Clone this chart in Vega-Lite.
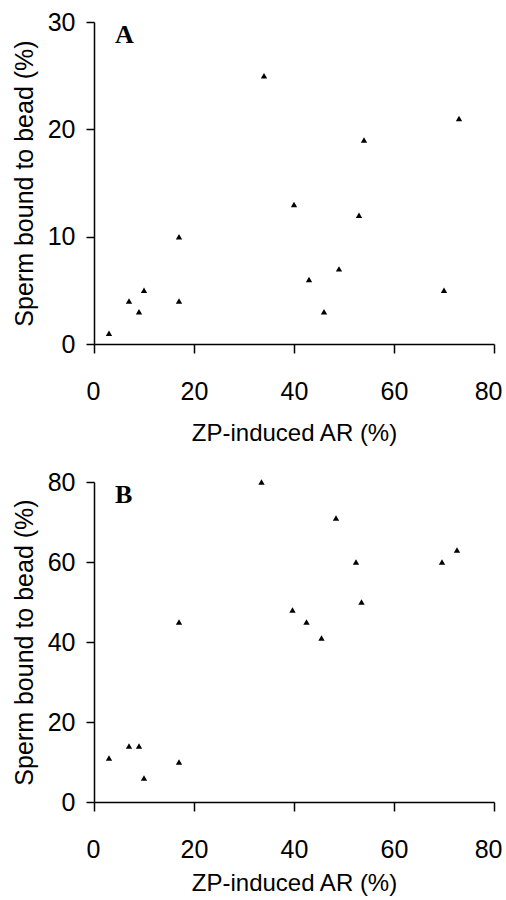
{
  "$schema": "https://vega.github.io/schema/vega-lite/v6.json",
  "background": "white",
  "padding": {"left": 12, "top": 10, "right": 0, "bottom": 4},
  "datasets": {
    "panelA": [
      {"ar": 3, "bound": 1},
      {"ar": 7, "bound": 4},
      {"ar": 9, "bound": 3},
      {"ar": 10, "bound": 5},
      {"ar": 17, "bound": 10},
      {"ar": 17, "bound": 4},
      {"ar": 34, "bound": 25},
      {"ar": 40, "bound": 13},
      {"ar": 43, "bound": 6},
      {"ar": 46, "bound": 3},
      {"ar": 49, "bound": 7},
      {"ar": 53, "bound": 12},
      {"ar": 54, "bound": 19},
      {"ar": 70, "bound": 5},
      {"ar": 73, "bound": 21}
    ],
    "panelB": [
      {"ar": 3, "bound": 11},
      {"ar": 7, "bound": 14},
      {"ar": 9, "bound": 14},
      {"ar": 10, "bound": 6},
      {"ar": 17, "bound": 45},
      {"ar": 17, "bound": 10},
      {"ar": 33.5, "bound": 80},
      {"ar": 39.7, "bound": 48},
      {"ar": 42.5, "bound": 45},
      {"ar": 45.5, "bound": 41},
      {"ar": 48.4, "bound": 71},
      {"ar": 52.4, "bound": 60},
      {"ar": 53.5, "bound": 50},
      {"ar": 69.6, "bound": 60},
      {"ar": 72.6, "bound": 63}
    ]
  },
  "config": {
    "view": {"stroke": null},
    "axis": {
      "grid": false,
      "domainColor": "black",
      "domainWidth": 1.5,
      "tickColor": "black",
      "tickWidth": 1.5,
      "labelFont": "Liberation Sans, Arial, sans-serif",
      "labelFontSize": 25,
      "labelColor": "black",
      "titleFont": "Liberation Sans, Arial, sans-serif",
      "titleFontWeight": "normal",
      "titleColor": "black"
    },
    "axisX": {"tickSize": 9, "labelPadding": 26, "labelFlush": true, "labelFlushOffset": 8, "titleFontSize": 24, "titlePadding": 17},
    "axisY": {"tickSize": 8, "labelPadding": 11, "labelFlush": false, "titleFontSize": 25, "titlePadding": 10}
  },
  "bounds": "flush",
  "spacing": 138,
  "vconcat": [
    {
      "width": 400,
      "height": 322,
      "layer": [
        {
          "data": {"name": "panelA"},
          "mark": {"type": "point", "shape": "triangle-up", "filled": true, "size": 40, "color": "black", "opacity": 1},
          "encoding": {
            "x": {"field": "ar", "type": "quantitative", "scale": {"domain": [0, 80], "nice": false}, "axis": {"values": [0, 20, 40, 60, 80], "title": "ZP-induced AR (%)"}},
            "y": {"field": "bound", "type": "quantitative", "scale": {"domain": [0, 30], "nice": false}, "axis": {"values": [0, 10, 20, 30], "title": "Sperm bound to bead (%)"}}
          }
        },
        {
          "data": {"values": [{"panel": "A"}]},
          "mark": {"type": "text", "font": "Liberation Serif, Times New Roman, serif", "fontWeight": "bold", "fontSize": 26, "align": "left", "baseline": "alphabetic", "color": "black"},
          "encoding": {
            "text": {"field": "panel"},
            "x": {"datum": 4.2, "type": "quantitative"},
            "y": {"datum": 28, "type": "quantitative"}
          }
        }
      ]
    },
    {
      "width": 400,
      "height": 320,
      "layer": [
        {
          "data": {"name": "panelB"},
          "mark": {"type": "point", "shape": "triangle-up", "filled": true, "size": 40, "color": "black", "opacity": 1},
          "encoding": {
            "x": {"field": "ar", "type": "quantitative", "scale": {"domain": [0, 80], "nice": false}, "axis": {"values": [0, 20, 40, 60, 80], "title": "ZP-induced AR (%)", "titlePadding": 9}},
            "y": {"field": "bound", "type": "quantitative", "scale": {"domain": [0, 80], "nice": false}, "axis": {"values": [0, 20, 40, 60, 80], "title": "Sperm bound to bead (%)"}}
          }
        },
        {
          "data": {"values": [{"panel": "B"}]},
          "mark": {"type": "text", "font": "Liberation Serif, Times New Roman, serif", "fontWeight": "bold", "fontSize": 26, "align": "left", "baseline": "alphabetic", "color": "black"},
          "encoding": {
            "text": {"field": "panel"},
            "x": {"datum": 4.2, "type": "quantitative"},
            "y": {"datum": 74.75, "type": "quantitative"}
          }
        }
      ]
    }
  ]
}
